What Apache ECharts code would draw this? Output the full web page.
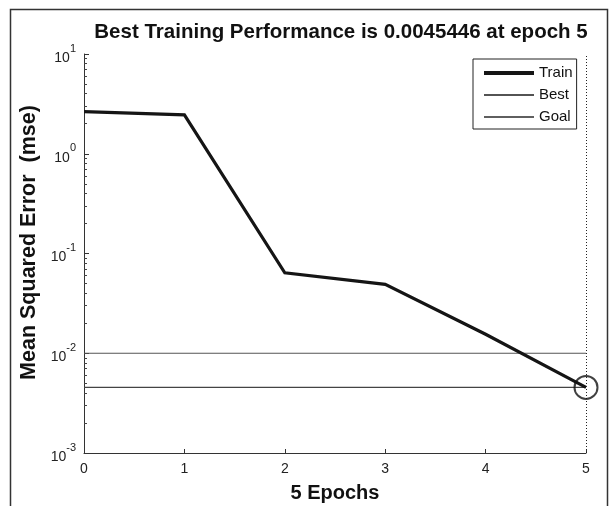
<!DOCTYPE html>
<html>
<head>
<meta charset="utf-8">
<script src="https://cdn.jsdelivr.net/npm/echarts@6/dist/echarts.min.js"></script>
<style>
html,body{margin:0;padding:0;background:#fff;}
#chart{width:611px;height:506px;}
</style>
</head>
<body>
<div id="chart"></div>
<script>
// ---- data ----
const epochs = [0, 1, 2, 3, 4, 5];
const trainMse = [2.65, 2.45, 0.064, 0.049, 0.0155, 0.0045446];
const bestEpoch = 5;
const bestMse = 0.0045446;
const goalMse = 0.01;
const xTicks = [0, 1, 2, 3, 4, 5];
const yTickValues = [0.001, 0.01, 0.1, 1, 10];
const yTickExponents = ['-3', '-2', '-1', '0', '1'];
const yMinorTicks = [
  0.002, 0.003, 0.004, 0.005, 0.006, 0.007, 0.008, 0.009,
  0.02, 0.03, 0.04, 0.05, 0.06, 0.07, 0.08, 0.09,
  0.2, 0.3, 0.4, 0.5, 0.6, 0.7, 0.8, 0.9,
  2, 3, 4, 5, 6, 7, 8, 9
];
const legendNames = ['Train', 'Best', 'Goal'];
const titleText = 'Best Training Performance is 0.0045446 at epoch 5';
const xName = '5 Epochs';
const yName = 'Mean Squared Error  (mse)';

const FONT = '"Liberation Sans", Arial, Helvetica, sans-serif';
const chart = echarts.init(document.getElementById('chart'), null, {renderer: 'canvas'});

const trainData = epochs.map((e, i) => [e, trainMse[i]]);
const bestData = [[epochs[0], bestMse], [epochs[epochs.length - 1], bestMse]];
const goalData = [[epochs[0], goalMse], [epochs[epochs.length - 1], goalMse]];

function expLabel(v) {
  const i = yTickValues.findIndex(t => Math.abs(Math.log10(t) - Math.log10(v)) < 1e-6);
  const ex = i >= 0 ? yTickExponents[i] : String(Math.round(Math.log10(v)));
  return '{b|10}{s|' + ex + '}';
}

const option = {
  backgroundColor: '#fff',
  animation: false,
  textStyle: {fontFamily: FONT},
  title: {
    text: titleText,
    left: 341,
    top: 22,
    textAlign: 'center',
    padding: 0,
    textStyle: {fontFamily: FONT, fontSize: 20.5, fontWeight: 'bold', color: '#111'}
  },
  graphic: [{
    type: 'rect',
    silent: true,
    shape: {x: 10.5, y: 9.5, width: 597, height: 520},
    style: {fill: 'none', stroke: '#333', lineWidth: 1.5}
  }],
  legend: {
    orient: 'vertical',
    left: 473,
    top: 59,
    padding: [6, 4, 4, 9],
    itemWidth: 50,
    itemHeight: 14,
    itemGap: 6,
    borderColor: '#222',
    borderWidth: 1,
    backgroundColor: '#fff',
    selectedMode: false,
    itemStyle: {opacity: 0},
    textStyle: {fontFamily: FONT, fontSize: 15, color: '#111', lineHeight: 16},
    data: [
      {name: legendNames[0], lineStyle: {width: 4, color: '#151515'}},
      {name: legendNames[1], lineStyle: {width: 1.5, color: '#1a1a1a'}},
      {name: legendNames[2], lineStyle: {width: 1.5, color: '#2a2a2a'}}
    ]
  },
  grid: {left: 84, right: 25, top: 54, bottom: 53, outerBoundsMode: 'none', containLabel: false},
  xAxis: {
    type: 'value',
    min: 0,
    max: 5,
    interval: 1,
    name: xName,
    nameLocation: 'middle',
    nameGap: 30,
    nameTextStyle: {fontFamily: FONT, fontSize: 20, fontWeight: 'bold', color: '#111'},
    axisLine: {show: true, lineStyle: {color: '#333', width: 1}},
    axisTick: {show: true, inside: true, length: 4, lineStyle: {color: '#333'}},
    axisLabel: {
      margin: 9, fontFamily: FONT, fontSize: 14, color: '#222',
      customValues: xTicks,
      formatter: v => String(v)
    },
    splitLine: {show: false}
  },
  yAxis: [{
    type: 'log',
    logBase: 10,
    min: 0.001,
    max: 10,
    name: yName,
    nameLocation: 'middle',
    nameGap: 44,
    nameTextStyle: {fontFamily: FONT, fontSize: 21.5, fontWeight: 'bold', color: '#111', padding: [0, 0, 0, 22]},
    axisLine: {show: true, lineStyle: {color: '#333', width: 1}},
    axisTick: {show: true, inside: true, length: 5, lineStyle: {color: '#333'}, customValues: yTickValues},
    axisLabel: {
      margin: 8,
      customValues: yTickValues,
      formatter: expLabel,
      rich: {
        b: {fontFamily: FONT, fontSize: 14, color: '#222', lineHeight: 22, verticalAlign: 'bottom'},
        s: {fontFamily: FONT, fontSize: 11, color: '#222', lineHeight: 11, verticalAlign: 'top'}
      }
    },
    splitLine: {show: false}
  }, {
    type: 'log',
    logBase: 10,
    min: 0.001,
    max: 10,
    position: 'left',
    axisLine: {show: false},
    axisLabel: {show: false},
    axisTick: {show: true, inside: true, length: 3, lineStyle: {color: '#444'}, customValues: yMinorTicks},
    splitLine: {show: false}
  }],
  series: [{
    name: 'Train',
    type: 'line',
    data: trainData,
    symbol: 'none',
    lineStyle: {color: '#151515', width: 3.2, join: 'miter'},
    itemStyle: {color: '#151515'},
    z: 4
  }, {
    name: 'Best',
    type: 'line',
    data: bestData,
    symbol: 'none',
    lineStyle: {color: '#444', width: 1.2},
    itemStyle: {color: '#444'},
    z: 3,
    markLine: {
      silent: true,
      symbol: 'none',
      label: {show: false},
      lineStyle: {type: [1, 2], color: '#222', width: 1},
      data: [{xAxis: bestEpoch}]
    }
  }, {
    name: 'Goal',
    type: 'line',
    data: goalData,
    symbol: 'none',
    lineStyle: {color: '#555', width: 1.2},
    itemStyle: {color: '#555'},
    z: 3
  }, {
    name: 'BestMarker',
    type: 'scatter',
    data: [[bestEpoch, bestMse]],
    symbol: 'circle',
    symbolSize: 23,
    clip: false,
    itemStyle: {color: 'rgba(0,0,0,0)', borderColor: '#111', borderWidth: 2},
    z: 5
  }]
};
chart.setOption(option);
</script>
</body>
</html>
